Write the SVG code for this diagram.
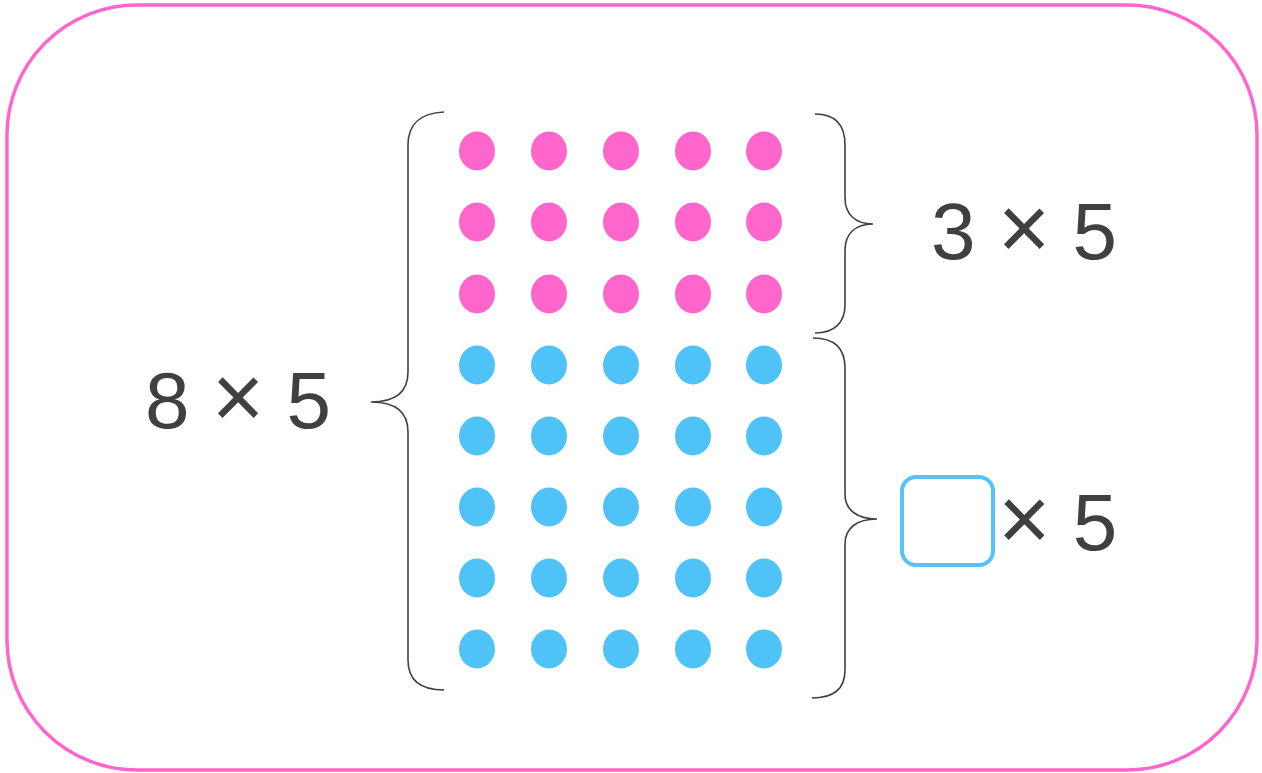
<svg xmlns="http://www.w3.org/2000/svg" width="1262" height="773" viewBox="0 0 1262 773">
<style>
.pk{fill:#ff66cc}
.bl{fill:#4fc3f7}
.br{fill:none;stroke:#404040;stroke-width:1.6}
.t{font-family:"Liberation Sans",Arial,sans-serif;font-size:80px;fill:#404040}
.x{font-size:90px}
</style>
<rect x="7" y="5" width="1250" height="765" rx="130" ry="130" fill="#fff" stroke="#ff66cc" stroke-width="3.5"/>
<g id="dots">
<g class="pk">
<ellipse cx="477" cy="151" rx="18" ry="19.5"/><ellipse cx="549" cy="151" rx="18" ry="19.5"/><ellipse cx="621" cy="151" rx="18" ry="19.5"/><ellipse cx="693" cy="151" rx="18" ry="19.5"/><ellipse cx="764" cy="151" rx="18" ry="19.5"/>
<ellipse cx="477" cy="222" rx="18" ry="19.5"/><ellipse cx="549" cy="222" rx="18" ry="19.5"/><ellipse cx="621" cy="222" rx="18" ry="19.5"/><ellipse cx="693" cy="222" rx="18" ry="19.5"/><ellipse cx="764" cy="222" rx="18" ry="19.5"/>
<ellipse cx="477" cy="294" rx="18" ry="19.5"/><ellipse cx="549" cy="294" rx="18" ry="19.5"/><ellipse cx="621" cy="294" rx="18" ry="19.5"/><ellipse cx="693" cy="294" rx="18" ry="19.5"/><ellipse cx="764" cy="294" rx="18" ry="19.5"/>
</g>
<g class="bl">
<ellipse cx="477" cy="365" rx="18" ry="19.5"/><ellipse cx="549" cy="365" rx="18" ry="19.5"/><ellipse cx="621" cy="365" rx="18" ry="19.5"/><ellipse cx="693" cy="365" rx="18" ry="19.5"/><ellipse cx="764" cy="365" rx="18" ry="19.5"/>
<ellipse cx="477" cy="436" rx="18" ry="19.5"/><ellipse cx="549" cy="436" rx="18" ry="19.5"/><ellipse cx="621" cy="436" rx="18" ry="19.5"/><ellipse cx="693" cy="436" rx="18" ry="19.5"/><ellipse cx="764" cy="436" rx="18" ry="19.5"/>
<ellipse cx="477" cy="507" rx="18" ry="19.5"/><ellipse cx="549" cy="507" rx="18" ry="19.5"/><ellipse cx="621" cy="507" rx="18" ry="19.5"/><ellipse cx="693" cy="507" rx="18" ry="19.5"/><ellipse cx="764" cy="507" rx="18" ry="19.5"/>
<ellipse cx="477" cy="578" rx="18" ry="19.5"/><ellipse cx="549" cy="578" rx="18" ry="19.5"/><ellipse cx="621" cy="578" rx="18" ry="19.5"/><ellipse cx="693" cy="578" rx="18" ry="19.5"/><ellipse cx="764" cy="578" rx="18" ry="19.5"/>
<ellipse cx="477" cy="649" rx="18" ry="19.5"/><ellipse cx="549" cy="649" rx="18" ry="19.5"/><ellipse cx="621" cy="649" rx="18" ry="19.5"/><ellipse cx="693" cy="649" rx="18" ry="19.5"/><ellipse cx="764" cy="649" rx="18" ry="19.5"/>
</g>
</g>
<g id="braces">
<path class="br" d="M444,112 C420,113 408,125 408,145 L408,372 C408,392 395,402 371,402 C395,402 408,412 408,432 L408,660 C408,680 420,690 444,690"/>
<path class="br" d="M815,114 C835,114 845,125 845,145 L845,198 C845,214 855,224 873,224 C855,224 845,234 845,250 L845,305 C845,322 835,333 815,333"/>
<path class="br" d="M813,338 C834,338 845,348 845,368 L845,494 C845,510 857,519 877,519 C857,519 845,528 845,544 L845,670 C845,688 834,698 812,698"/>
</g>
<g id="label-8x5"><text class="t" x="145" y="428">8 <tspan class="x">×</tspan> 5</text></g>
<g id="label-3x5"><text class="t" x="931" y="259">3 <tspan class="x">×</tspan> 5</text></g>
<g id="label-box-x5">
<rect x="902" y="477" width="91" height="88" rx="14" fill="none" stroke="#55c3f7" stroke-width="4"/>
<text class="t" x="998" y="550"><tspan class="x">×</tspan> 5</text>
</g>
</svg>
